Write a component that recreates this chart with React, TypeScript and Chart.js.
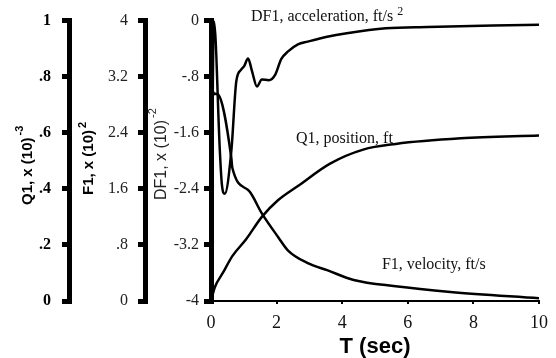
import React, { useEffect, useRef } from "react";
import { Chart, registerables } from "chart.js";

Chart.register(...registerables);

// ---- data ----
const T_ACC = [0, 0.09, 0.27, 0.33, 0.42, 0.62, 0.77, 0.92, 1.01, 1.13, 1.25, 1.4, 1.55, 1.76, 1.96, 2.14, 2.35, 2.65, 2.95, 3.54, 4.14, 5.33, 6.6, 8.6, 10];
const DF1_ACC = [-4, -0.01, -1.86, -2.33, -2.47, -1.86, -0.87, -0.7, -0.65, -0.54, -0.72, -0.94, -0.84, -0.85, -0.77, -0.55, -0.44, -0.34, -0.3, -0.23, -0.18, -0.11, -0.09, -0.07, -0.06];

const T_VEL = [0, 0.01, 0.2, 0.62, 0.65, 1.16, 1.55, 2.05, 2.35, 2.95, 3.54, 4.35, 5.63, 7.3, 10];
const F1_VEL = [0, 2.96, 2.95, 2.04, 1.9, 1.57, 1.25, 0.91, 0.72, 0.54, 0.44, 0.3, 0.21, 0.13, 0.04];

const T_POS = [0, 0.03, 0.12, 0.36, 0.65, 1.07, 1.55, 2.05, 2.65, 3.63, 4.64, 5.63, 7.62, 10];
const Q1_POS = [0, 0.014, 0.05, 0.1, 0.16, 0.22, 0.3, 0.36, 0.41, 0.49, 0.54, 0.56, 0.58, 0.59];

const X_TICKS = [0, 2, 4, 6, 8, 10];
const X_TICK_LABELS = ["0", "2", "4", "6", "8", "10"];
const Q1_TICKS = [0, 0.2, 0.4, 0.6, 0.8, 1];
const Q1_TICK_LABELS = ["0", ".2", ".4", ".6", ".8", "1"];
const F1_TICKS = [0, 0.8, 1.6, 2.4, 3.2, 4];
const F1_TICK_LABELS = ["0", ".8", "1.6", "2.4", "3.2", "4"];
const DF1_TICKS = [-4, -3.2, -2.4, -1.6, -0.8, 0];
const DF1_TICK_LABELS = ["-4", "-3.2", "-2.4", "-1.6", "-.8", "0"];

const X_TITLE = "T (sec)";
const Q1_TITLE = ["Q1, x (10)", "-3"];
const F1_TITLE = ["F1, x (10)", "2"];
const DF1_TITLE = ["DF1, x (10)", "-2"];

const ACC_LABEL = ["DF1, acceleration, ft/s", "2"];
const POS_LABEL = ["Q1, position, ft", ""];
const VEL_LABEL = ["F1, velocity, ft/s", ""];

// ---- styles ----
const SERIF = "'Liberation Serif', 'Times New Roman', serif";
const SANS = "'Liberation Sans', Arial, sans-serif";

const TITLE_STYLE = [
  { id: "q1", text: Q1_TITLE, font: `bold 15px ${SANS}`, supFont: `bold 11px ${SANS}`, base: 32, up: 96, raise: 9 },
  { id: "f1", text: F1_TITLE, font: `bold 15px ${SANS}`, supFont: `bold 11px ${SANS}`, base: 24, up: 106, raise: 7 },
  { id: "df1", text: DF1_TITLE, font: `16px ${SANS}`, supFont: `11px ${SANS}`, base: 21, up: 101, raise: 10 },
];

const CURVE_LABELS = [
  { text: ACC_LABEL, axis: "df1", t: 1.22, v: 0.06 },
  { text: POS_LABEL, axis: "q1", t: 2.59, v: 0.578 },
  { text: VEL_LABEL, axis: "f1", t: 5.21, v: 0.51 },
];

const textPlugin = {
  id: "customText",
  afterDraw(chart: any) {
    const ctx = chart.ctx as CanvasRenderingContext2D;
    ctx.save();
    ctx.fillStyle = "#000";
    ctx.textBaseline = "alphabetic";
    ctx.textAlign = "left";
    for (const st of TITLE_STYLE) {
      const s = chart.scales[st.id];
      ctx.save();
      ctx.translate(s.left + st.base, s.bottom - st.up);
      ctx.rotate(-Math.PI / 2);
      ctx.font = st.font;
      ctx.fillStyle = st.id === "df1" ? "#222" : "#000";
      ctx.fillText(st.text[0], 0, 0);
      const w = ctx.measureText(st.text[0]).width;
      ctx.font = st.supFont;
      ctx.fillText(st.text[1], w + 2, -st.raise);
      ctx.restore();
    }
    const xs = chart.scales.x;
    ctx.textBaseline = "middle";
    ctx.fillStyle = "#111";
    for (const lb of CURVE_LABELS) {
      const ys = chart.scales[lb.axis];
      const px = xs.getPixelForValue(lb.t);
      const py = ys.getPixelForValue(lb.v);
      ctx.font = `16px ${SERIF}`;
      ctx.fillText(lb.text[0], px, py);
      if (lb.text[1]) {
        const w = ctx.measureText(lb.text[0]).width;
        ctx.font = `12px ${SERIF}`;
        ctx.fillText(lb.text[1], px + w + 4, py - 5);
      }
    }
    ctx.restore();
  },
};

function yAxis(ticksArr: number[], labels: string[], weight: number, width: number, pad: number, bold: boolean, color: string) {
  return {
    type: "linear",
    position: "left",
    weight,
    min: ticksArr[0],
    max: ticksArr[ticksArr.length - 1],
    afterFit: (s: any) => {
      s.width = width;
    },
    afterBuildTicks: (s: any) => {
      s.ticks = ticksArr.map((v) => ({ value: v }));
    },
    border: { display: true, width: 5, color: "#000" },
    grid: { drawOnChartArea: false, drawTicks: true, tickLength: 7, lineWidth: 5, color: "#000" },
    ticks: {
      autoSkip: false,
      padding: pad,
      color,
      font: { family: SERIF, size: 16, weight: bold ? "bold" : "normal" },
      callback: (_v: any, i: number) => labels[i],
    },
    title: { display: false },
  };
}

export default function App() {
  const ref = useRef<HTMLCanvasElement>(null);
  useEffect(() => {
    if (!ref.current) return;
    const mk = (ts: number[], vs: number[]) => ts.map((t, i) => ({ x: t, y: vs[i] }));
    const common = {
      borderColor: "#000",
      backgroundColor: "#000",
      borderWidth: 2.5,
      pointRadius: 0,
      cubicInterpolationMode: "monotone",
      fill: false,
    };
    const chart = new Chart(ref.current, {
      type: "line",
      data: {
        datasets: [
          { ...common, label: "DF1", data: mk(T_ACC, DF1_ACC), yAxisID: "df1" },
          {
            ...common,
            label: "F1",
            data: mk(T_VEL, F1_VEL),
            yAxisID: "f1",
            pointRadius: (c: any) => (c.dataIndex === 1 ? 3.5 : 0),
            pointBackgroundColor: "#000",
            pointBorderWidth: 0,
          },
          { ...common, label: "Q1", data: mk(T_POS, Q1_POS), yAxisID: "q1" },
        ],
      } as any,
      options: {
        animation: false,
        responsive: false,
        devicePixelRatio: 1,
        layout: { padding: { top: 19, right: 9, bottom: 0, left: 0 } },
        plugins: { legend: { display: false }, tooltip: { enabled: false } },
        scales: {
          x: {
            type: "linear",
            position: "bottom",
            min: 0,
            max: 10,
            afterFit: (s: any) => {
              s.height = 57;
            },
            afterBuildTicks: (s: any) => {
              s.ticks = X_TICKS.map((v) => ({ value: v }));
            },
            border: { display: true, width: 2, color: "#000" },
            grid: { drawOnChartArea: false, drawTicks: true, tickLength: 3, lineWidth: 2, color: "#000" },
            ticks: {
              autoSkip: false,
              maxRotation: 0,
              padding: 8,
              color: "#111",
              font: { family: SERIF, size: 18 },
              callback: (_v: any, i: number) => X_TICK_LABELS[i],
            },
            title: {
              display: true,
              text: X_TITLE,
              color: "#000",
              font: { family: SANS, size: 22, weight: "bold", lineHeight: 1 },
              padding: { top: 0, bottom: 0 },
            },
          },
          q1: yAxis(Q1_TICKS, Q1_TICK_LABELS, 3, 69, 11, true, "#000"),
          f1: yAxis(F1_TICKS, F1_TICK_LABELS, 2, 76, 10, false, "#222"),
          df1: yAxis(DF1_TICKS, DF1_TICK_LABELS, 1, 66, 5, false, "#222"),
        },
      } as any,
      plugins: [textPlugin],
    });
    return () => chart.destroy();
  }, []);
  return (
    <div style={{ position: "absolute", left: 0, top: 0, width: 556, height: 358, background: "#fff" }}>
      <canvas ref={ref} width={556} height={358} style={{ display: "block" }} />
    </div>
  );
}
